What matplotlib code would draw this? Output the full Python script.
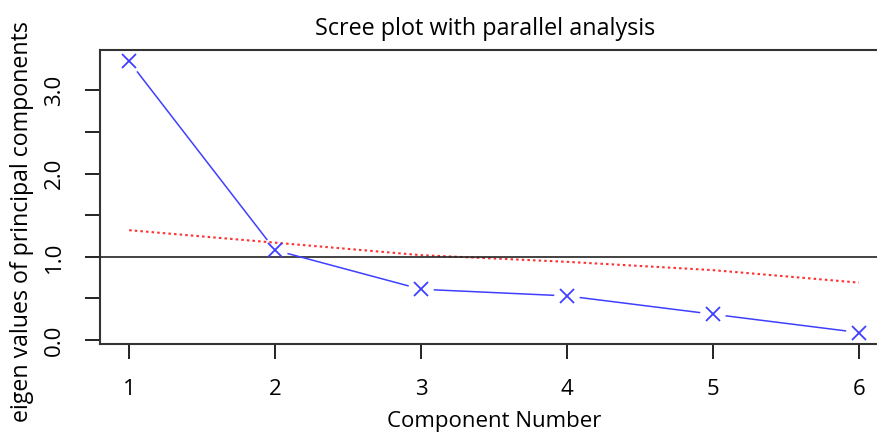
import numpy as np
import matplotlib
matplotlib.use("Agg")
import matplotlib.pyplot as plt

# component numbers and eigen values
components = [1, 2, 3, 4, 5, 6]
pc_actual = [3.35, 1.08, 0.61, 0.53, 0.31, 0.09]
pc_simulated = [1.32, 1.17, 1.02, 0.94, 0.84, 0.69]
kaiser_line = 1.0
y_ticks = [0.0, 0.5, 1.0, 1.5, 2.0, 2.5, 3.0]
y_labels = ["0.0", "", "1.0", "", "2.0", "", "3.0"]

plt.rcParams['font.family'] = ['Open Sans', 'DejaVu Sans']
plt.rcParams['font.size'] = 16

fig = plt.figure(figsize=(8.77, 4.32), dpi=100)
# right edge of the plot box sits just past the picture edge
ax = fig.add_axes([100 / 877, 1 - 344 / 432, 788 / 877, 294 / 432])
ax.set_xlim(0.8, 6.2)
ax.set_ylim(-0.048, 3.486)

blue = '#3f3fff'

# red dotted line from the parallel analysis
ax.plot(components, pc_simulated, color='#ff3030', lw=1.5,
        dashes=(1.2, 1.5), zorder=2)
ax.axhline(kaiser_line, color='#222222', lw=1.2, zorder=3)

# blue line with gaps around each point (R type="b")
fig.canvas.draw()
pts = ax.transData.transform(np.column_stack([components, pc_actual]))
gap = 13.5
for a, b in zip(pts[:-1], pts[1:]):
    d = b - a
    u = d / np.hypot(*d)
    seg = ax.transData.inverted().transform([a + u * gap, b - u * gap])
    ax.plot(seg[:, 0], seg[:, 1], color=blue, lw=1.1, zorder=4)
ax.plot(components, pc_actual, ls='none', marker='x', ms=10, mew=1.3,
        color=blue, zorder=5)

ax.set_xticks(components)
ax.set_yticks(y_ticks)
ax.set_yticklabels(y_labels, rotation=90, va='center')
ax.tick_params(direction='out', length=11, width=1.4, pad=14, colors='#222222',
               labelcolor='black')
for s in ax.spines.values():
    s.set_linewidth(1.5)
    s.set_color('#333333')

fig.text(485 / 877, 1 - 35 / 432, "Scree plot with parallel analysis",
         fontsize=16.8, ha='center', va='baseline')
ax.set_xlabel("Component Number", labelpad=8)
ax.set_ylabel("eigen values of principal components", fontsize=16.7, labelpad=6)
ax.yaxis.set_label_coords(-66 / 788, 0.415)

fig.savefig("out.png", dpi=100)
